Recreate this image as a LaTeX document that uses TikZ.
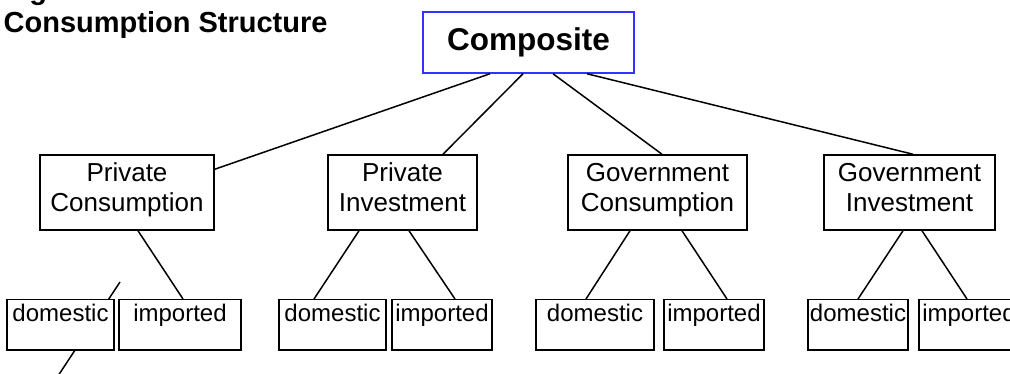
\documentclass[tikz,border=0pt]{standalone}
\usepackage{fontspec}
\setmainfont{Liberation Sans}
\usetikzlibrary{calc}

\begin{document}
\begin{tikzpicture}[
    x=1pt, y=-1pt,
    topbox/.style={draw=blue!80, fill=white, line width=1.5pt, font=\bfseries\fontsize{31.5}{36}\selectfont, minimum width=211pt, minimum height=61pt, inner sep=0pt},
    sector/.style={draw=black, fill=white, line width=1.5pt, align=center, font=\fontsize{26}{30}\selectfont, minimum height=75pt, inner sep=0pt, text depth=11pt},
    good/.style={draw=black, fill=white, line width=1.5pt, anchor=north, font=\fontsize{24}{28}\selectfont, inner xsep=0pt, inner ysep=3pt, text height=19pt, text depth=25pt},
    link/.style={draw=black, line width=1.5pt},
]
\useasboundingbox (0,0) rectangle (1010,374);
\clip (0,0) rectangle (1010,374);

% --- TITLE ---
\node[anchor=base west, font=\bfseries\fontsize{29}{33}\selectfont, inner sep=0pt] (fig) at (3.5,0) {Figure};
\node[anchor=base west, font=\bfseries\fontsize{29}{33}\selectfont, inner sep=0pt] (title) at (3.5,33) {Consumption Structure};

% loose line running under the first domestic box
\coordinate (loose1) at (120,282);
\coordinate (loose2) at (52,385);
\draw[link] (loose1) -- (loose2);

% --- TREE ---
\node[topbox] (comp) at (528.5,42.5) {Composite};

\node[sector, minimum width=174pt] (pc) at (127,192.5) {Private\\Consumption};
\node[sector, minimum width=149pt] (pi) at (402.5,192.5) {Private\\Investment};
\node[sector, minimum width=179pt] (gc) at (657.5,192.5) {Government\\Consumption};
\node[sector, minimum width=171pt] (gi) at (909.5,192.5) {Government\\Investment};

\foreach \nm/\cx/\bw/\txt in {d1/60.5/107/domestic, i1/180/122/imported,
                              d2/332.5/107/domestic, i2/442/100/imported,
                              d3/595/118/domestic, i3/714/100/imported,
                              d4/858/100/domestic, i4/969/100/imported} {
    \node[good, minimum width=\bw pt] (\nm) at (\cx,299) {\txt};
}

% composite to the four sectors
\draw[link] ($(comp.south)+(-38.5,0)$) -- ($(pc.north east)+(0,15)$);
\draw[link] ($(comp.south)+(-5.5,0)$) -- ($(pi.north)+(40.5,0)$);
\draw[link] ($(comp.south)+(24.5,0)$) -- ($(gc.north)+(4.5,0)$);
\draw[link] ($(comp.south)+(58.5,0)$) -- ($(gi.north)+(3.5,0)$);

% sectors to domestic/imported
\foreach \a/\da/\b/\db in {pc/11/i1/3, pi/-43.5/d2/-18.5, pi/6.5/i2/13,
                           gc/-27.5/d3/-9, gc/24.5/i3/13, gi/-6.5/d4/0, gi/12.5/i4/-2} {
    \draw[link] ($(\a.south)+(\da,0)$) -- ($(\b.north)+(\db,0)$);
}

\end{tikzpicture}
\end{document}
